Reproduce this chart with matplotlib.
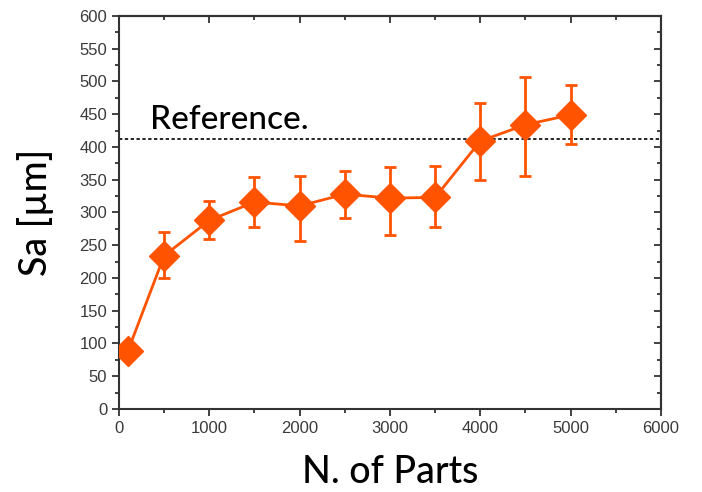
import matplotlib.pyplot as plt
from matplotlib.ticker import MultipleLocator

parts = [100, 500, 1000, 1500, 2000, 2500, 3000, 3500, 4000, 4500, 5000]
sa = [89, 234, 288, 316, 310, 328, 322, 323, 409, 434, 449]
err_low = [89, 200, 259, 278, 257, 291, 265, 278, 349, 356, 405]
err_high = [89, 270, 318, 354, 356, 363, 369, 371, 467, 507, 495]
reference = 412

orange = '#FF5300'
label_font = 'Lato'

yerr = [[s - lo for s, lo in zip(sa, err_low)],
        [hi - s for s, hi in zip(sa, err_high)]]

fig = plt.figure(figsize=(7.02, 4.92), dpi=100)
ax = fig.add_axes([0.1695, 0.1687, 0.772, 0.7988])

ax.axhline(reference, color='black', linestyle=(0, (2, 1.5)), linewidth=1.2, zorder=1)
ax.errorbar(parts, sa, yerr=yerr, color=orange, linewidth=2, elinewidth=2,
            capsize=4, capthick=2, marker='D', markersize=15, zorder=3)

ax.text(340, 428, 'Reference.', fontsize=24, family=label_font,
        fontweight='medium', color='black')

ax.set_xlim(0, 6000)
ax.set_ylim(0, 600)
ax.xaxis.set_major_locator(MultipleLocator(1000))
ax.xaxis.set_minor_locator(MultipleLocator(500))
ax.yaxis.set_major_locator(MultipleLocator(50))
ax.yaxis.set_minor_locator(MultipleLocator(25))

ax.tick_params(which='both', direction='out', top=False, right=False,
               color='#333333', width=1.3)
ax.tick_params(which='major', length=5, labelsize=12, labelcolor='#3a3a3a')
ax.tick_params(which='minor', length=3)
for lbl in ax.get_xticklabels() + ax.get_yticklabels():
    lbl.set_family('Liberation Sans')

# inward ticks on top and right like Origin
sec_x = ax.secondary_xaxis('top')
sec_x.xaxis.set_major_locator(MultipleLocator(1000))
sec_x.xaxis.set_minor_locator(MultipleLocator(500))
sec_x.tick_params(which='both', direction='in', labeltop=False, color='#333333', width=1.3)
sec_x.tick_params(which='major', length=5)
sec_x.tick_params(which='minor', length=3)
sec_y = ax.secondary_yaxis('right')
sec_y.yaxis.set_major_locator(MultipleLocator(50))
sec_y.yaxis.set_minor_locator(MultipleLocator(25))
sec_y.tick_params(which='both', direction='in', labelright=False, color='#333333', width=1.3)
sec_y.tick_params(which='major', length=5)
sec_y.tick_params(which='minor', length=3)
for s in [sec_x.spines['top'], sec_y.spines['right']]:
    s.set_linewidth(1.5)
    s.set_color('#333333')

for s in ax.spines.values():
    s.set_linewidth(1.5)
    s.set_color('#333333')

ax.set_xlabel('N. of Parts', fontsize=27, family=label_font, fontweight='medium', labelpad=14)
ax.set_ylabel('Sa [µm]', fontsize=27, family=label_font, fontweight='medium', labelpad=18)

plt.savefig('out.png', dpi=100)
